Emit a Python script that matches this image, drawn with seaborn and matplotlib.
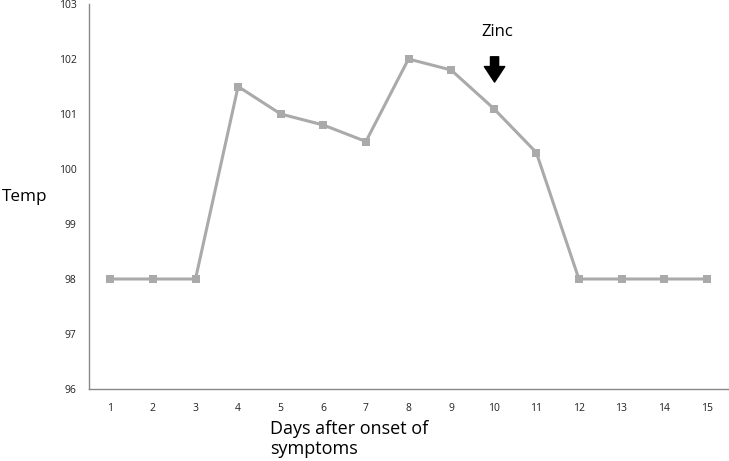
import numpy as np
import pandas as pd
import seaborn as sns
import matplotlib.pyplot as plt

# Data
days = [1, 2, 3, 4, 5, 6, 7, 8, 9, 10, 11, 12, 13, 14, 15]
temp = [98, 98, 98, 101.5, 101.0, 100.8, 100.5, 102.0, 101.8, 101.1, 100.3, 98, 98, 98, 98]
y_ticks = [96, 97, 98, 99, 100, 101, 102, 103]
zinc_day = 10

df = pd.DataFrame({'day': days, 'temp': temp})

sns.set_style('white')
plt.rcParams['font.family'] = ['Open Sans', 'DejaVu Sans']

fig = plt.figure(figsize=(7.29, 4.61), dpi=100)
ax = fig.add_axes([89 / 729, 72 / 461, 639 / 729, 385 / 461])

sns.lineplot(data=df, x='day', y='temp', ax=ax, color='#aaaaaa', linewidth=2.2,
             marker='s', markersize=6, markeredgewidth=0, markerfacecolor='#aaaaaa')

ax.set_xlim(0.5, 15.5)
ax.set_ylim(96, 103)
ax.set_xticks(days)
ax.set_xticklabels([str(d) for d in days], fontsize=7.5, color='#222222')
ax.set_yticks(y_ticks)
ax.set_yticklabels([str(t) for t in y_ticks], fontsize=7.5, color='#222222')
ax.tick_params(axis='x', length=0, pad=10)
ax.tick_params(axis='y', length=0, pad=9)
ax.set_xlabel('')
ax.set_ylabel('')

for side in ['top', 'right']:
    ax.spines[side].set_visible(False)
for side in ['left', 'bottom']:
    ax.spines[side].set_color('#888888')
    ax.spines[side].set_linewidth(1)

# Zinc annotation
ax.text(zinc_day + 0.08, 102.5, 'Zinc', ha='center', va='center', fontsize=12, color='black')
ax.annotate('', xy=(zinc_day + 0.02, 101.58), xytext=(zinc_day + 0.02, 102.04),
            arrowprops=dict(arrowstyle='simple,head_width=1.05,head_length=0.8,tail_width=0.42',
                            color='black', mutation_scale=14, shrinkA=0, shrinkB=0))

fig.text(2 / 729, 1 - 197 / 461, 'Temp', ha='left', va='center', fontsize=12.3, color='black')
fig.text(270 / 729, 1 - 439 / 461, 'Days after onset of\nsymptoms', ha='left', va='center',
         fontsize=13, linespacing=1.2, color='black')

fig.savefig('out.png', dpi=100)
